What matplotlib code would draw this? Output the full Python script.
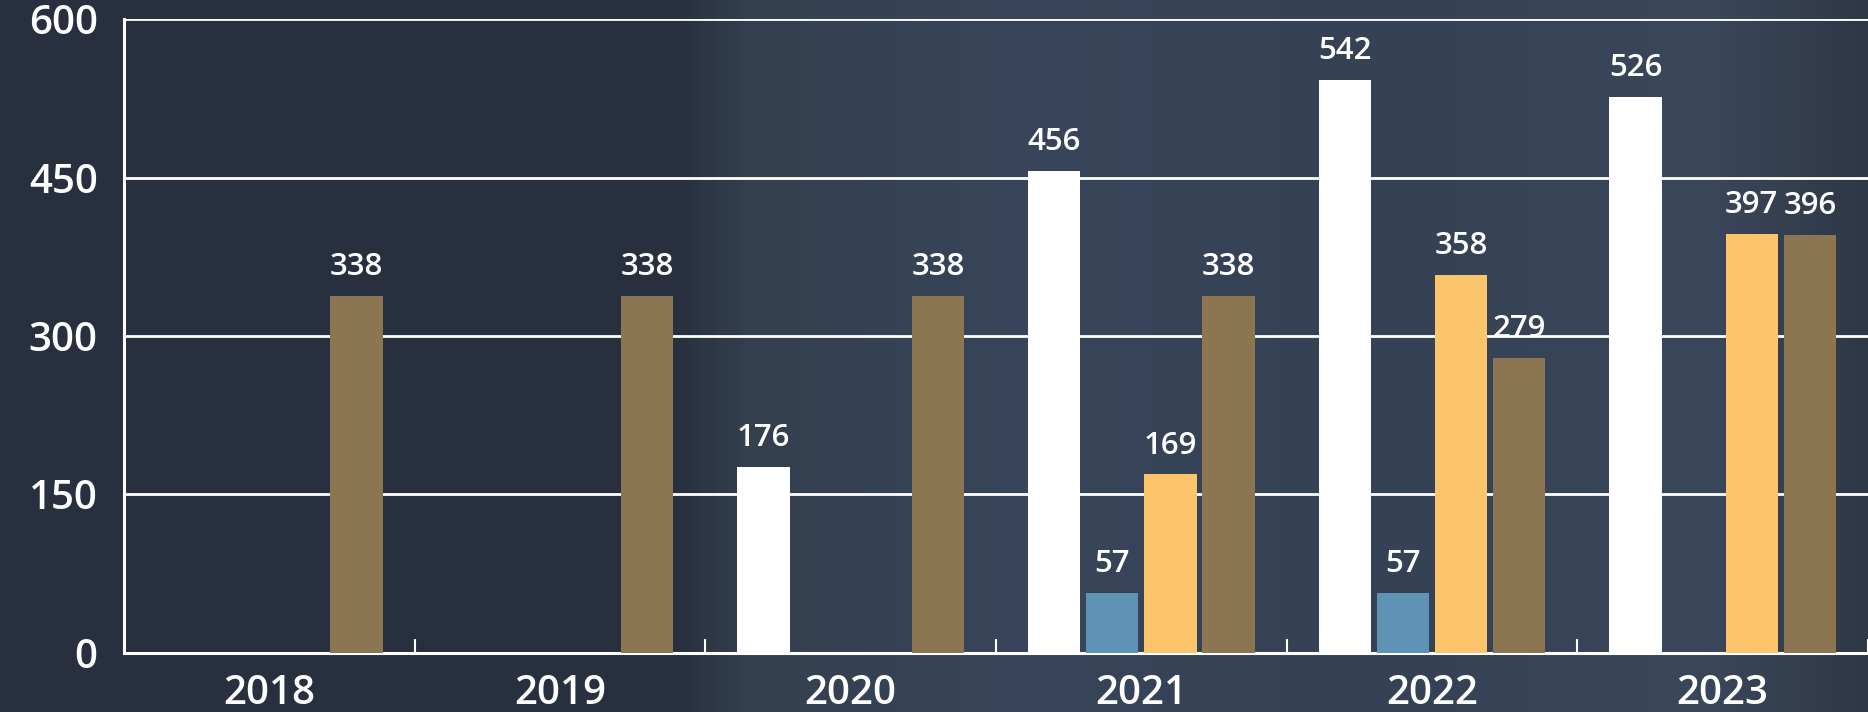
import matplotlib
matplotlib.use('Agg')
import matplotlib.pyplot as plt
import numpy as np
from matplotlib.colors import LinearSegmentedColormap

years = ['2018', '2019', '2020', '2021', '2022', '2023']
white_vals = [0, 0, 176, 456, 542, 526]
blue_vals = [0, 0, 0, 57, 57, 0]
yellow_vals = [0, 0, 0, 169, 358, 397]
brown_vals = [338, 338, 338, 338, 279, 396]

series = [white_vals, blue_vals, yellow_vals, brown_vals]
colors = ['#ffffff', '#5f93b5', '#fdc56b', '#8b7651']
offsets = [-0.3, -0.1, 0.1, 0.3]

bg = '#282f3e'
plt.rcParams['font.family'] = ['Open Sans', 'DejaVu Sans']

fig = plt.figure(figsize=(18.68, 7.12), dpi=100, facecolor=bg)

# backdrop: dark left side, lighter "code screen" area to the right
bg_ax = fig.add_axes([0, 0, 1, 1], zorder=0)
cmap = LinearSegmentedColormap.from_list(
    'bgfade', [(0.0, bg), (0.36, bg), (0.40, '#34404f'), (0.55, '#38455a'),
               (0.75, '#354154'), (0.92, '#3a4659'), (1.0, '#2f3847')])
grad = np.linspace(0, 1, 600).reshape(1, -1)
bg_ax.imshow(grad, aspect='auto', cmap=cmap, extent=[0, 1, 0, 1])
bg_ax.axis('off')

ax = fig.add_axes([0.0664, 0.0829, 0.9336, 0.8904], zorder=1)
ax.patch.set_alpha(0)

x = np.arange(len(years))
for vals, col, off in zip(series, colors, offsets):
    for xi, v in zip(x, vals):
        if v <= 0:
            continue
        ax.bar(xi + off, v, width=0.18, color=col, zorder=3)
        ax.annotate(str(v), (xi + off, v), xytext=(0, 15), textcoords='offset points',
                    ha='center', va='baseline', fontsize=22.5, fontweight='semibold',
                    color='white', zorder=4)

ax.set_xlim(-0.5, len(years) - 0.5)
ax.set_ylim(0, 600)
ax.set_yticks([0, 150, 300, 450, 600])
ax.yaxis.grid(True, color='white', linewidth=2)
ax.set_axisbelow(True)

ax.set_xticks(x)
ax.set_xticklabels(years)
ax.set_xticks(np.arange(0.5, len(years), 1.0), minor=True)
ax.tick_params(axis='x', which='major', length=0, pad=15, labelsize=29, labelcolor='white')
ax.tick_params(axis='x', which='minor', direction='in', length=10, width=1.5, color='white')
ax.tick_params(axis='y', length=0, pad=19, labelsize=29, labelcolor='white')
for lbl in ax.get_xticklabels() + ax.get_yticklabels():
    lbl.set_fontweight('semibold')

for side in ['top', 'right']:
    ax.spines[side].set_visible(False)
for side in ['left', 'bottom']:
    ax.spines[side].set_color('white')
    ax.spines[side].set_linewidth(2.2)

fig.savefig('out.png', dpi=100, facecolor=bg)
